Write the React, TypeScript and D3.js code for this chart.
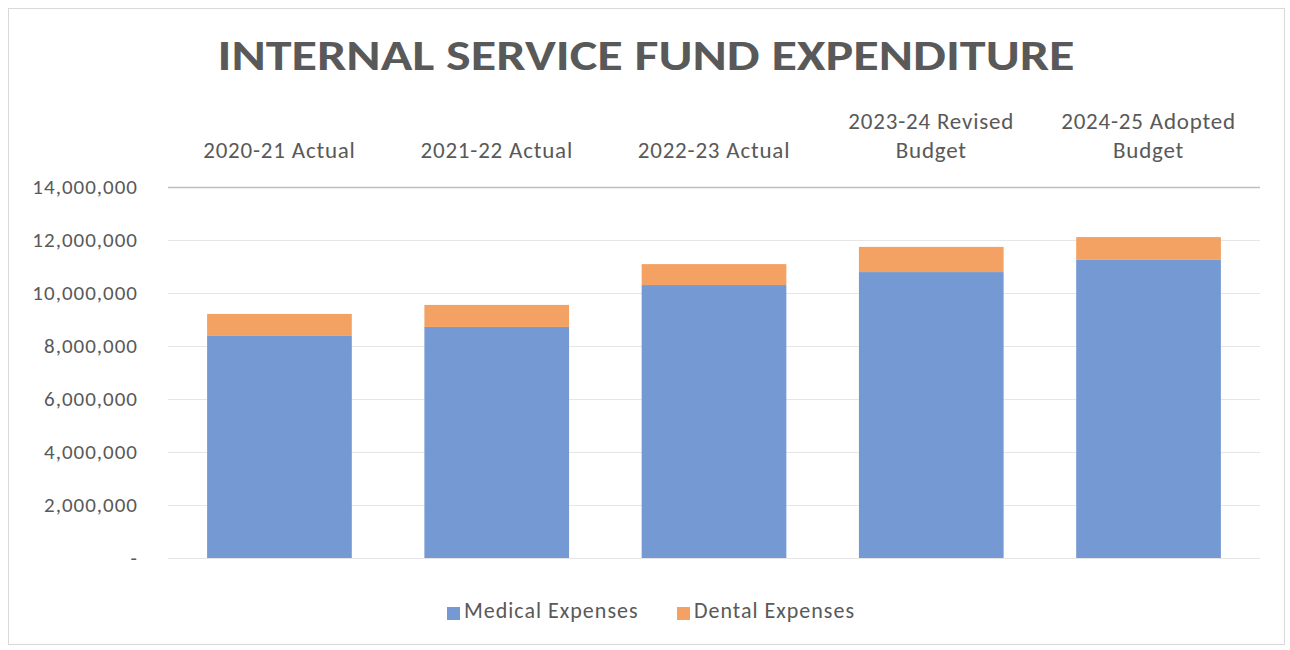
import { useEffect, useRef } from "react";
import * as d3 from "d3";

const categories = [
  ["2020-21 Actual"],
  ["2021-22 Actual"],
  ["2022-23 Actual"],
  ["2023-24 Revised", "Budget"],
  ["2024-25 Adopted", "Budget"],
];
const medical = [8380000, 8720000, 10300000, 10790000, 11250000];
const dental = [830000, 830000, 790000, 950000, 860000];
const seriesNames = ["Medical Expenses", "Dental Expenses"];
const colors = ["#7599d3", "#f3a263"];
const yTickValues = [0, 2000000, 4000000, 6000000, 8000000, 10000000, 12000000, 14000000];

const FONT = "Carlito, Lato, 'Open Sans', sans-serif";

export default function App() {
  const svgRef = useRef<SVGSVGElement>(null);
  const width = 1290;
  const height = 650;

  useEffect(() => {
    document.body.style.margin = "0";
    if (!svgRef.current) return;
    const svg = d3.select(svgRef.current);
    svg.selectAll("*").remove();
    svg.attr("width", width).attr("height", height);

    svg
      .append("rect")
      .attr("x", 8.5)
      .attr("y", 8.5)
      .attr("width", width - 14)
      .attr("height", height - 14)
      .attr("fill", "#fff")
      .attr("stroke", "#d9d9d9");

    const margin = { top: 187, right: 30, bottom: 92, left: 168 };
    const w = width - margin.left - margin.right;
    const h = height - margin.top - margin.bottom;

    const g = svg
      .append("g")
      .attr("transform", `translate(${margin.left},${margin.top})`);

    const labels = categories.map((c) => c.join(" "));
    const x = d3.scaleBand().domain(labels).range([0, w]).paddingInner(0.334).paddingOuter(0.18);
    const y = d3.scaleLinear().domain([0, 14000000]).range([h, 0]);

    // Grid lines (top one doubles as the category axis)
    yTickValues.forEach((t) => {
      g.append("line")
        .attr("x1", 0)
        .attr("x2", w)
        .attr("y1", Math.round(y(t)) + 0.5)
        .attr("y2", Math.round(y(t)) + 0.5)
        .attr("stroke", t === 14000000 ? "#bfbfbf" : "#e6e6e6")
        .attr("stroke-width", t === 14000000 ? 1.5 : 1);
    });

    // Stacked bars
    const rows = labels.map((l, i) => ({ label: l, medical: medical[i], dental: dental[i] }));
    const stack = d3.stack<any>().keys(["medical", "dental"])(rows);
    stack.forEach((layer, si) => {
      g.append("g")
        .attr("fill", colors[si])
        .selectAll("rect")
        .data(layer)
        .join("rect")
        .attr("x", (d) => x(d.data.label)!)
        .attr("width", x.bandwidth())
        .attr("y", (d) => y(d[1]))
        .attr("height", (d) => y(d[0]) - y(d[1]));
    });

    // Y axis labels
    const fmt = d3.format(",");
    yTickValues.forEach((t) => {
      g.append("text")
        .attr("x", -30)
        .attr("y", y(t))
        .attr("dy", "0.35em")
        .attr("text-anchor", "end")
        .attr("font-family", FONT)
        .attr("font-size", "21px")
        .attr("letter-spacing", "1px")
        .attr("fill", "#595959")
        .text(t === 0 ? "-" : fmt(t));
    });

    // Category labels on top
    categories.forEach((c, i) => {
      const cx = x(labels[i])! + x.bandwidth() / 2;
      c.forEach((line, li) => {
        g.append("text")
          .attr("x", cx)
          .attr("y", -34 - (c.length - 1 - li) * 29)
          .attr("text-anchor", "middle")
          .attr("dominant-baseline", "middle")
          .attr("font-family", FONT)
          .attr("font-size", "23px")
          .attr("letter-spacing", "0.8px")
          .attr("fill", "#595959")
          .text(line);
      });
    });

    // Title
    svg
      .append("text")
      .attr("x", 646)
      .attr("y", 60)
      .attr("text-anchor", "middle")
      .attr("dominant-baseline", "middle")
      .attr("font-family", FONT)
      .attr("font-size", "42px")
      .attr("font-weight", "700")
      .attr("fill", "#595959")
      .attr("textLength", 857)
      .attr("lengthAdjust", "spacingAndGlyphs")
      .text("INTERNAL SERVICE FUND EXPENDITURE");

    // Legend
    const legendX = [447, 677];
    seriesNames.forEach((name, i) => {
      svg
        .append("rect")
        .attr("x", legendX[i])
        .attr("y", 607)
        .attr("width", 13)
        .attr("height", 13)
        .attr("fill", colors[i]);
      svg
        .append("text")
        .attr("x", legendX[i] + 17)
        .attr("y", 613)
        .attr("dominant-baseline", "middle")
        .attr("font-family", FONT)
        .attr("font-size", "22px")
        .attr("letter-spacing", "1px")
        .attr("fill", "#595959")
        .text(name);
    });
  }, []);

  return <svg ref={svgRef} style={{ display: "block" }} />;
}
